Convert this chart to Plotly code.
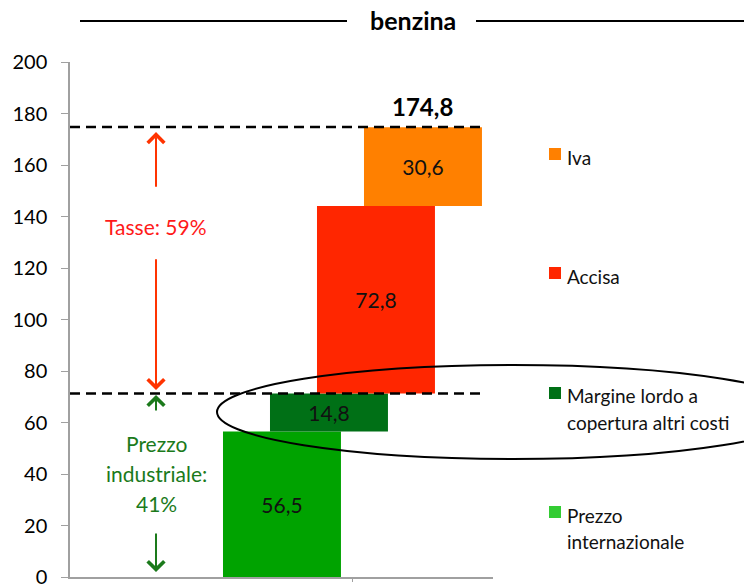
import plotly.graph_objects as go

# Price components of petrol (centesimi/litro), stacked as a waterfall
components = ["Prezzo internazionale", "Margine lordo a copertura altri costi", "Accisa", "Iva"]
legend_lines = [["Prezzo", "internazionale"], ["Margine lordo a", "copertura altri costi"], ["Accisa"], ["Iva"]]
values = [56.5, 14.8, 72.8, 30.6]
total_price = 174.8
bar_colors = ["#00a300", "#007016", "#ff2600", "#ff8000"]
swatch_colors = ["#33cc33", "#007016", "#ff2600", "#ff8000"]
y_ticks = [0, 20, 40, 60, 80, 100, 120, 140, 160, 180, 200]

FONT = "Lato, 'Open Sans', sans-serif"
BAR_W = 2.51
X_RANGE = [-4.51, 4.49]

bases = []
acc = 0.0
for v in values:
    bases.append(acc)
    acc += v
industrial_price = values[0] + values[1]

fig = go.Figure()
for i, (name, v, b, c) in enumerate(zip(components, values, bases, bar_colors)):
    fig.add_trace(go.Bar(
        x=[i], y=[v], base=[b], width=BAR_W, name=name,
        marker=dict(color=c, line=dict(width=0)),
        text=[f"{v:.1f}".replace(".", ",")], textposition="inside",
        insidetextanchor="middle", textangle=0,
        textfont=dict(family=FONT, size=21, color="#111111"),
        showlegend=False,
    ))


def px_x(p):
    return (p - 70) / 423


def px_y(p):
    return (577 - p) / 515


bar_right = len(values) - 1 + BAR_W / 2
shapes = []
# dashed reference lines for total and industrial price
for yv in (total_price, industrial_price):
    shapes.append(dict(type="line", xref="x", yref="y", x0=X_RANGE[0], x1=bar_right,
                       y0=yv, y1=yv, layer="above",
                       line=dict(color="black", width=2.5, dash="10px,6px")))

# highlight ellipse around the margin component
shapes.append(dict(type="circle", xref="paper", yref="paper",
                   x0=px_x(217), x1=px_x(809), y0=px_y(459), y1=px_y(365), layer="above",
                   line=dict(color="black", width=2)))

# title rules
shapes.append(dict(type="line", xref="paper", yref="paper", x0=px_x(80), x1=px_x(347),
                   y0=px_y(21), y1=px_y(21), line=dict(color="black", width=2)))
shapes.append(dict(type="line", xref="paper", yref="paper", x0=px_x(476), x1=px_x(760),
                   y0=px_y(21), y1=px_y(21), line=dict(color="black", width=2)))

# custom legend swatches and labels
legend_rows = [(154, [157]), (273, [276]), (393, [395, 422]), (512, [515, 541])]
legend_order = [3, 2, 1, 0]
annotations = []
for (sw_y, line_ys), idx in zip(legend_rows, legend_order):
    shapes.append(dict(type="rect", xref="paper", yref="paper",
                       x0=px_x(549), x1=px_x(561), y0=px_y(sw_y + 6), y1=px_y(sw_y - 6),
                       fillcolor=swatch_colors[idx], line=dict(width=0)))
    for line_text, ly in zip(legend_lines[idx], line_ys):
        annotations.append(dict(xref="paper", yref="paper", x=px_x(565), y=px_y(ly),
                                text=line_text, showarrow=False, xanchor="left",
                                yanchor="middle", align="left",
                                font=dict(family=FONT, size=19, color="#111111")))

annotations.append(dict(xref="paper", yref="paper", x=px_x(413), y=px_y(20),
                        text="<b>benzina</b>", showarrow=False, xanchor="center",
                        yanchor="middle", font=dict(family=FONT, size=25, color="black")))
annotations.append(dict(xref="x", yref="y", x=len(values) - 1, y=total_price,
                        text="<b>" + f"{total_price:.1f}".replace(".", ",") + "</b>",
                        showarrow=False, yanchor="bottom", yshift=4,
                        font=dict(family=FONT, size=24, color="black")))

ARROW_X = -2.68
RED = "#ff3300"
GREEN = "#1b7a1b"
taxes_share = round((total_price - industrial_price) / total_price * 100)
industrial_share = 100 - taxes_share

annotations.append(dict(xref="x", yref="paper", x=ARROW_X, y=px_y(226),
                        text=f"Tasse: {taxes_share}%", showarrow=False, yanchor="middle",
                        font=dict(family=FONT, size=21, color="#ff1a1a")))
for line_text, ly in zip(["Prezzo", "industriale:", f"{industrial_share}%"], [443, 473, 503]):
    annotations.append(dict(xref="x", yref="paper", x=ARROW_X, y=px_y(ly),
                            text=line_text, showarrow=False, yanchor="middle",
                            font=dict(family=FONT, size=21, color=GREEN)))


def arrow(y_head, y_tail, color):
    return dict(xref="x", yref="y", axref="x", ayref="y", x=ARROW_X, y=y_head,
                ax=ARROW_X, ay=y_tail, text="", showarrow=True, arrowhead=4,
                arrowsize=1.6, arrowwidth=2, arrowcolor=color)


annotations.append(arrow(total_price - 2, 151, RED))
annotations.append(arrow(industrial_price + 1.3, 124, RED))
annotations.append(arrow(industrial_price - 0.6, 64.1, GREEN))
annotations.append(arrow(1.9, 17.5, GREEN))

fig.update_layout(
    width=744, height=584,
    margin=dict(l=70, r=251, t=62, b=7, autoexpand=False),
    paper_bgcolor="white", plot_bgcolor="white",
    barmode="overlay", showlegend=False,
    shapes=shapes, annotations=annotations,
    font=dict(family=FONT, color="black"),
    xaxis=dict(range=X_RANGE, showgrid=False, zeroline=False, showline=True,
               linecolor="#a0a0a0", linewidth=2, tickvals=[1.49], ticks="outside",
               ticklen=3, tickcolor="#a0a0a0", showticklabels=False, fixedrange=True,
               automargin=False),
    yaxis=dict(range=[0, 200], tickvals=y_ticks, showgrid=False, zeroline=False,
               showline=True, linecolor="#a0a0a0", linewidth=1.5, ticks="outside",
               ticklen=7, tickcolor="#a0a0a0", ticklabelstandoff=10,
               ticklabeloverflow="allow", automargin=False,
               tickfont=dict(family=FONT, size=20, color="black"), fixedrange=True),
)

fig.write_html("out.html")
